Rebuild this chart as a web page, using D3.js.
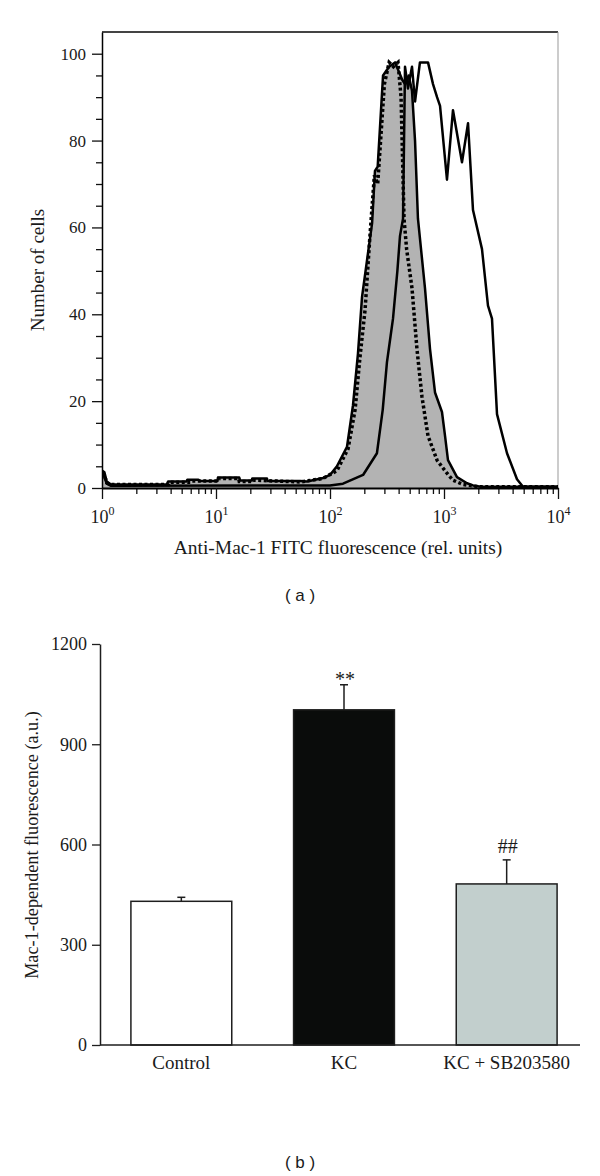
<!DOCTYPE html>
<html><head><meta charset="utf-8">
<script src="https://cdn.jsdelivr.net/npm/d3@7"></script>
<style>
body{margin:0;background:#fff;}
svg{display:block;}
text{font-family:"Liberation Serif","Times New Roman",serif;fill:#1a1a1a;}
</style></head><body>
<svg id="c" width="600" height="1176"></svg>
<script>
// ---------- Panel (a): flow cytometry histograms (fluorescence, cell count) ----------
const grayHist = [[1,4],[1.05,3.6],[1.1,1.5],[1.2,0.8],[3.7,0.8],[3.8,1.5],[5.5,1.5],[5.6,1.9],[7,1.9],[7.2,1.6],
  [10.3,1.6],[10.4,2.4],[16,2.4],[16.3,1.7],[20.6,1.7],[20.8,2.2],[28,2.2],[28.3,1.6],[55,1.6],[63,1.5],[87,2.3],
  [100,3],[115,5],[141,9.5],[159,19],[176,31],[191,44],[234,61],[248,73],[262,74],[292,95],[330,97],[372,98],
  [400,96],[430,94],[455,93],[490,95],[524,91.5],[557,80],[591,62],[681,46],[754,32],[834,22],[960,17.5],
  [1021,12],[1084,6.4],[1300,2.5],[1592,1.1],[1800,0.6],[2100,0.3],[10000,0.3]];
const dottedHist = [[1,3.5],[1.05,3],[1.1,1.2],[1.2,0.8],[3.8,0.8],[3.9,1.3],[6,1.3],[6.2,1.6],[10.5,1.6],[10.6,2.2],
  [15.8,2.2],[16,1.5],[21,1.5],[21.2,1.8],[55,1.4],[87,2.2],[115,4],[144,9],[166,18],[183,30],[203,41],[224,58],
  [245,72],[262,70],[300,93],[330,98],[360,97],[395,98],[420,90],[446,62],[470,55],[524,46],[579,32],[641,21],
  [724,12],[869,6.4],[1062,3.4],[1199,1.8],[1468,0.8],[2000,0.3],[10000,0.3]];
const kcHist = [[1,3],[1.05,2.5],[1.1,1],[1.2,0.5],[100,0.6],[130,1],[195,3],[258,8],[290,18],[316,29],[340,35],
  [357,39],[390,50],[411,58],[437,62],[455,97],[483,92],[524,97],[557,89],[615,98],[724,98],[801,93],[869,90],
  [923,88],[1062,71],[1199,87],[1438,75],[1625,84],[1796,64],[2154,55],[2431,42],[2636,39],[2917,17],[3571,8],
  [4369,2],[4932,0.3],[10000,0.3]];
const histXMajor = [1,10,100,1000,10000];
const histXExp = ["0","1","2","3","4"];
const histYMajor = [0,20,40,60,80,100];
const histYMinor = [5,10,15,25,30,35,45,50,55,65,70,75,85,90,95];

// ---------- Panel (b): bar chart ----------
const barCats = ["Control","KC","KC + SB203580"];
const barMeans = [430,1003,482];
const barErrs = [12,75,72];
const barMarks = ["","**","##"];
const barFills = ["#ffffff","#0a0c0b","#c2cfcd"];
const barYTicks = [0,300,600,900,1200];

const svg = d3.select("#c");

// ===== Panel (a) =====
const hx = d3.scaleLog().domain([1,10000]).range([102,558]);
const hy = d3.scaleLinear().domain([0,105]).range([488,32]);
const ga = svg.append("g");

ga.append("defs").append("clipPath").attr("id","hclip").append("rect")
  .attr("x",hx.range()[0]).attr("y",hy.range()[1])
  .attr("width",hx.range()[1]-hx.range()[0]).attr("height",hy.range()[0]-hy.range()[1]);

// frame top/right
ga.append("line").attr("x1",hx(1)).attr("x2",hx(10000)).attr("y1",hy(105)).attr("y2",hy(105))
  .attr("stroke","#444").attr("stroke-width",2);
ga.append("line").attr("x1",hx(10000)).attr("x2",hx(10000)).attr("y1",hy(105)).attr("y2",hy(0))
  .attr("stroke","#999").attr("stroke-width",1);

const area = d3.area().x(d=>hx(d[0])).y0(hy(0)).y1(d=>hy(d[1]));
const line = d3.line().x(d=>hx(d[0])).y(d=>hy(d[1]));
const cg = ga.append("g").attr("clip-path","url(#hclip)");
cg.append("path").datum(grayHist).attr("d",area).attr("fill","#b3b3b3");
cg.append("path").datum(grayHist).attr("d",line).attr("fill","none").attr("stroke","#000").attr("stroke-width",2.5).attr("stroke-linejoin","round");
cg.append("path").datum(kcHist).attr("d",line).attr("fill","none").attr("stroke","#000").attr("stroke-width",2.5).attr("stroke-linejoin","round");
cg.append("path").datum(dottedHist).attr("d",line).attr("fill","none").attr("stroke","#000").attr("stroke-width",3.5).attr("stroke-dasharray","3,2.5");

// x axis
const minorX = [];
for (let e=0;e<4;e++) for (let m=2;m<=9;m++) minorX.push(m*Math.pow(10,e));
ga.append("g").attr("transform",`translate(0,${hy(0)})`)
  .call(d3.axisBottom(hx).tickValues(minorX).tickSize(6).tickSizeOuter(0).tickFormat(""))
  .call(g=>g.select(".domain").remove())
  .call(g=>g.selectAll("line").attr("stroke","#111").attr("stroke-width",1.3));
const xa = ga.append("g").attr("transform",`translate(0,${hy(0)})`)
  .call(d3.axisBottom(hx).tickValues(histXMajor).tickSize(11).tickSizeOuter(0).tickFormat(""));
xa.select(".domain").attr("stroke","#000").attr("stroke-width",2);
xa.selectAll("line").attr("stroke","#111").attr("stroke-width",1.3);
xa.selectAll(".tick").each(function(d,i){
  const t = d3.select(this).append("text").attr("y",35).attr("text-anchor","middle")
    .attr("font-size",18).attr("fill","#1a1a1a");
  t.append("tspan").text("10");
  t.append("tspan").attr("dy",-8).attr("font-size",12).text(histXExp[i]);
});

// y axis
ga.append("g").attr("transform",`translate(${hx(1)},0)`)
  .call(d3.axisLeft(hy).tickValues(histYMinor).tickSize(6).tickSizeOuter(0).tickFormat(""))
  .call(g=>g.select(".domain").remove())
  .call(g=>g.selectAll("line").attr("stroke","#111").attr("stroke-width",1.3));
const ya = ga.append("g").attr("transform",`translate(${hx(1)},0)`)
  .call(d3.axisLeft(hy).tickValues(histYMajor).tickSize(10).tickSizeOuter(0).tickPadding(6).tickFormat(d3.format("d")));
ya.select(".domain").attr("stroke","#000").attr("stroke-width",1.5);
ya.selectAll("line").attr("stroke","#111").attr("stroke-width",1.3);
ya.selectAll("text").attr("font-size",17).attr("font-family","Liberation Serif, serif").attr("fill","#1a1a1a");

ga.append("text").attr("x",338).attr("y",554).attr("text-anchor","middle").attr("font-size",19.5)
  .text("Anti-Mac-1 FITC fluorescence (rel. units)");
ga.append("text").attr("transform","translate(44,270) rotate(-90)").attr("text-anchor","middle").attr("font-size",19)
  .text("Number of cells");
ga.append("text").attr("x",300).attr("y",601).attr("text-anchor","middle").attr("font-size",17)
  .style("font-family","'Liberation Sans', Arial, sans-serif").attr("xml:space","preserve").text("( a )");

// ===== Panel (b) =====
const bx = d3.scaleBand().domain(barCats).range([100,588]).paddingInner(0.38).paddingOuter(0.19);
const by = d3.scaleLinear().domain([0,1200]).range([1045,644]);
const gb = svg.append("g");

gb.selectAll("rect.bar").data(barCats).join("rect").attr("class","bar")
  .attr("x",d=>bx(d)).attr("width",bx.bandwidth())
  .attr("y",(d,i)=>by(barMeans[i])).attr("height",(d,i)=>by(0)-by(barMeans[i]))
  .attr("fill",(d,i)=>barFills[i]).attr("stroke","#1e1e1e").attr("stroke-width",1.5);

barCats.forEach((c,i)=>{
  const cx = bx(c)+bx.bandwidth()/2;
  const top = by(barMeans[i]+barErrs[i]);
  gb.append("line").attr("x1",cx).attr("x2",cx).attr("y1",by(barMeans[i])).attr("y2",top)
    .attr("stroke","#1e1e1e").attr("stroke-width",1.5);
  gb.append("line").attr("x1",cx-4).attr("x2",cx+4).attr("y1",top).attr("y2",top)
    .attr("stroke","#1e1e1e").attr("stroke-width",1.5);
  if (barMarks[i]) {
    gb.append("text").attr("x",cx+1).attr("y", barMarks[i]==="**" ? top+1 : top-7)
      .attr("text-anchor","middle").attr("font-size",20).text(barMarks[i]);
  }
});

const bya = gb.append("g").attr("transform",`translate(100,0)`)
  .call(d3.axisLeft(by).tickValues(barYTicks).tickSize(8).tickSizeOuter(0).tickPadding(5).tickFormat(d3.format("d")));
bya.select(".domain").attr("stroke","#1e1e1e").attr("stroke-width",1.5);
bya.selectAll("line").attr("stroke","#1e1e1e").attr("stroke-width",1.3);
bya.selectAll("text").attr("font-size",18).attr("font-family","Liberation Serif, serif").attr("fill","#1a1a1a");

gb.append("line").attr("x1",100).attr("x2",580).attr("y1",by(0)).attr("y2",by(0))
  .attr("stroke","#1e1e1e").attr("stroke-width",1.5);
gb.selectAll("text.cat").data(barCats).join("text").attr("class","cat")
  .attr("x",d=>bx(d)+bx.bandwidth()/2).attr("y",1069).attr("text-anchor","middle")
  .attr("font-size",19).text(d=>d);

gb.append("text").attr("transform","translate(38,845) rotate(-90)").attr("text-anchor","middle").attr("font-size",18.2)
  .text("Mac-1-dependent fluorescence (a.u.)");
gb.append("text").attr("x",300).attr("y",1168).attr("text-anchor","middle").attr("font-size",17)
  .style("font-family","'Liberation Sans', Arial, sans-serif").attr("xml:space","preserve").text("( b )");
</script>
</body></html>
